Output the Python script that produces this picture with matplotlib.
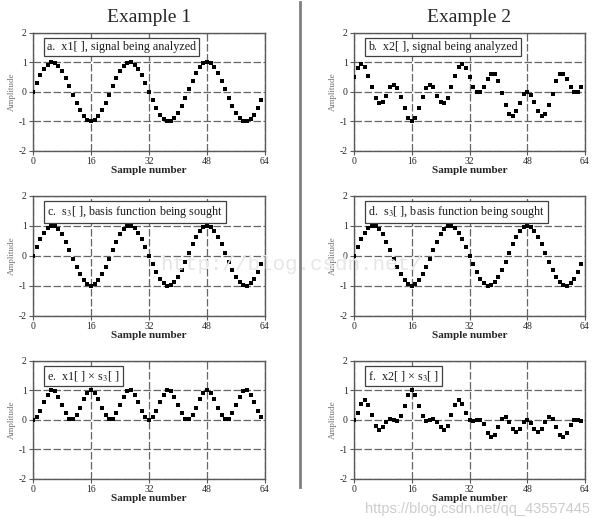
import matplotlib
matplotlib.use("Agg")
import matplotlib.pyplot as plt

# ---------------- data ----------------
sample_n = list(range(64))

x1 = [0.00, 0.29, 0.56, 0.77, 0.92, 1.00, 0.98, 0.88, 0.71, 0.47, 0.20, -0.10,
      -0.38, -0.63, -0.83, -0.96, -1.00, -0.96, -0.83, -0.63, -0.38, -0.10, 0.20,
      0.47, 0.71, 0.88, 0.98, 1.00, 0.92, 0.77, 0.56, 0.29,
      0.00, -0.29, -0.56, -0.77, -0.92, -1.00, -0.98, -0.88, -0.71, -0.47, -0.20,
      0.10, 0.38, 0.63, 0.83, 0.96, 1.00, 0.96, 0.83, 0.63, 0.38, 0.10, -0.20,
      -0.47, -0.71, -0.88, -0.98, -1.00, -0.92, -0.77, -0.56, -0.29]

s3 = [0.00, 0.29, 0.56, 0.77, 0.92, 1.00, 0.98, 0.88, 0.71, 0.47, 0.20, -0.10,
      -0.38, -0.63, -0.83, -0.96, -1.00, -0.96, -0.83, -0.63, -0.38, -0.10, 0.20,
      0.47, 0.71, 0.88, 0.98, 1.00, 0.92, 0.77, 0.56, 0.29,
      0.00, -0.29, -0.56, -0.77, -0.92, -1.00, -0.98, -0.88, -0.71, -0.47, -0.20,
      0.10, 0.38, 0.63, 0.83, 0.96, 1.00, 0.96, 0.83, 0.63, 0.38, 0.10, -0.20,
      -0.47, -0.71, -0.88, -0.98, -1.00, -0.92, -0.77, -0.56, -0.29]

x1_times_s3 = [0.00, 0.08, 0.31, 0.59, 0.85, 0.99, 0.96, 0.78, 0.50, 0.22, 0.04,
               0.01, 0.15, 0.40, 0.69, 0.91, 1.00, 0.91, 0.69, 0.40, 0.15, 0.01,
               0.04, 0.22, 0.50, 0.78, 0.96, 0.99, 0.85, 0.59, 0.31, 0.08,
               0.00, 0.08, 0.31, 0.59, 0.85, 0.99, 0.96, 0.78, 0.50, 0.22, 0.04,
               0.01, 0.15, 0.40, 0.69, 0.91, 1.00, 0.91, 0.69, 0.40, 0.15, 0.01,
               0.04, 0.22, 0.50, 0.78, 0.96, 0.99, 0.85, 0.59, 0.31, 0.08]

x2 = [0.49, 0.82, 0.93, 0.85, 0.54, 0.15, -0.21, -0.39, -0.35, -0.13, 0.15, 0.22,
      0.12, -0.17, -0.55, -0.87, -1.00, -0.87, -0.55, -0.17, 0.12, 0.22, 0.15,
      -0.13, -0.35, -0.39, -0.21, 0.15, 0.54, 0.85, 0.93, 0.82,
      0.50, 0.18, 0.00, 0.00, 0.17, 0.44, 0.60, 0.60, 0.37, -0.05, -0.46, -0.75,
      -0.80, -0.66, -0.38, -0.08, 0.00, -0.10, -0.36, -0.64, -0.80, -0.75, -0.46,
      -0.07, 0.35, 0.60, 0.60, 0.45, 0.18, 0.00, 0.00, 0.17]

x2_times_s3 = [0.00, 0.24, 0.52, 0.65, 0.50, 0.15, -0.21, -0.34, -0.25, -0.06,
               0.03, -0.02, -0.05, 0.11, 0.46, 0.84, 1.00, 0.84, 0.46, 0.11, -0.05,
               -0.02, 0.03, -0.06, -0.25, -0.34, -0.21, 0.15, 0.50, 0.65, 0.52, 0.24,
               0.00, -0.05, 0.00, 0.00, -0.16, -0.44, -0.59, -0.53, -0.26, 0.02,
               0.09, -0.08, -0.30, -0.42, -0.32, -0.08, 0.00, -0.10, -0.30, -0.40,
               -0.30, -0.08, 0.09, 0.03, -0.25, -0.53, -0.59, -0.45, -0.17, 0.00,
               0.00, -0.05]

x_ticks = [0, 16, 32, 48, 64]
y_ticks = [-2, -1, 0, 1, 2]
column_titles = ["Example 1", "Example 2"]
panel_labels = ["a.  x1[ ], signal being analyzed",
                "b.  x2[ ], signal being analyzed",
                "c.  s$_3$[ ], basis function being sought",
                "d.  s$_3$[ ], basis function being sought",
                "e.  x1[ ] \u00d7 s$_3$[ ]",
                "f.  x2[ ] \u00d7 s$_3$[ ]"]
panel_series = [x1, x2, s3, s3, x1_times_s3, x2_times_s3]

# ---------------- styling ----------------
plt.rcParams['font.family'] = ['Liberation Serif', 'DejaVu Serif']
plt.rcParams['mathtext.fontset'] = 'stix'

W, H = 603, 518
fig = plt.figure(figsize=(W / 100, H / 100), dpi=100)

# axes boxes in pixels: (left, right, top, bottom)
col_lr = [(33, 265), (354, 585)]
row_tb = [(32.7, 151), (195.7, 315.5), (360.5, 479)]

for i, (series, label) in enumerate(zip(panel_series, panel_labels)):
    r, c = divmod(i, 2)
    l, rr = col_lr[c]
    t, b = row_tb[r]
    ax = fig.add_axes([l / W, 1 - b / H, (rr - l) / W, (b - t) / H])
    ax.set_xlim(0, 64)
    ax.set_ylim(-2, 2)
    ax.set_xticks(x_ticks)
    ax.set_yticks(y_ticks)
    ax.set_yticklabels([str(v) for v in y_ticks])
    ax.grid(True, color='0.4', linestyle=(0, (6, 2)), linewidth=0.9)
    ax.set_axisbelow(True)
    ax.plot(sample_n, series, linestyle='none', marker='s', markersize=3.4,
            color='black', markeredgewidth=0, zorder=3)
    for sp in ax.spines.values():
        sp.set_color('0.35')
        sp.set_linewidth(1.0)
    ax.tick_params(direction='out', length=3, width=0.8, color='0.35',
                   labelsize=7, pad=1.5, labelcolor='0.15')
    ax.set_xlabel("Sample number", fontsize=8, fontweight='bold', labelpad=0,
                  color='0.15')
    ax.set_ylabel("Amplitude", fontsize=6.5, color='0.45', labelpad=2)
    ax.text(0.06, 0.93, label, transform=ax.transAxes, fontsize=8.7,
            va='top', ha='left', color='0.1', zorder=5,
            bbox=dict(boxstyle='square,pad=0.25', fc='white', ec='0.25', lw=0.9))
    if r == 0:
        ax.set_title(column_titles[c], fontsize=14, pad=8, color='0.15')

# separator line between the two examples
fig.add_artist(plt.Line2D([300 / W, 300 / W], [1 - 2 / H, 1 - 487 / H],
                          color='0.5', linewidth=2))

# watermarks
fig.text(160 / W, 1 - 265 / H, "http://blog.csdn.net/", fontsize=15,
         family=['Liberation Mono', 'DejaVu Sans Mono'],
         color='0.9', va='center', ha='left', zorder=10)
fig.text(590 / W, 1 - 509 / H, "https://blog.csdn.net/qq_43557445",
         fontsize=10.5, family=['Liberation Sans', 'DejaVu Sans'],
         color='0.8', va='center', ha='right', zorder=10)

fig.savefig("out.png", dpi=100, facecolor='white')
